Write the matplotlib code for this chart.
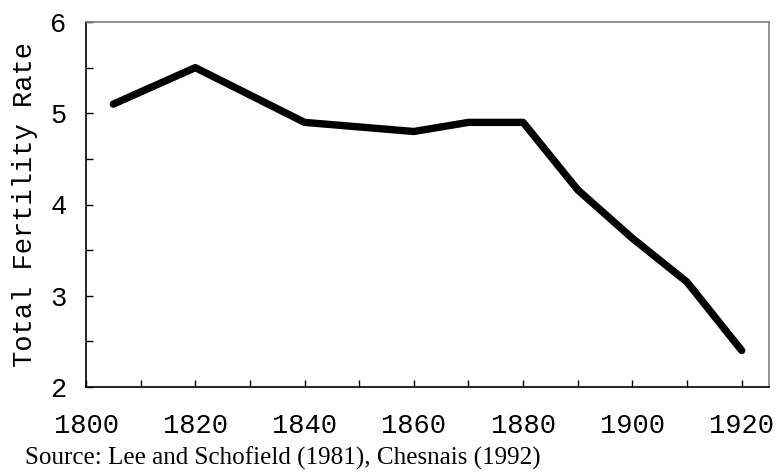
import matplotlib
matplotlib.use("Agg")
import matplotlib.pyplot as plt
from matplotlib.ticker import MultipleLocator

years = [1805, 1820, 1840, 1860, 1870, 1880, 1890, 1900, 1910, 1920]
tfr = [5.1, 5.5, 4.9, 4.8, 4.9, 4.9, 4.16, 3.63, 3.15, 2.4]

W, H = 777, 472
fig = plt.figure(figsize=(W / 100, H / 100), dpi=100)
ax = fig.add_axes([86 / W, 1 - 387 / H, (769 - 86) / W, (387 - 22) / H])

ax.plot(years, tfr, color="black", lw=5.3, solid_capstyle="round", solid_joinstyle="round")

ax.set_xlim(1800, 1925)
ax.set_ylim(2, 6)
ax.xaxis.set_major_locator(MultipleLocator(20))
ax.xaxis.set_minor_locator(MultipleLocator(10))
ax.yaxis.set_major_locator(MultipleLocator(1))
ax.yaxis.set_minor_locator(MultipleLocator(0.5))

mono = "Liberation Mono"
fs = 19.5
ax.tick_params(which="both", direction="in", length=5, width=1, color="black")
ax.tick_params(axis="x", which="major", pad=19, labelsize=fs)
ax.tick_params(axis="y", which="major", pad=14, labelsize=fs)
for lab in ax.get_xticklabels() + ax.get_yticklabels():
    lab.set_fontfamily(mono)

for s in ["top", "right"]:
    ax.spines[s].set_color("#808080")
for s in ["left", "bottom"]:
    ax.spines[s].set_color("black")
for s in ax.spines.values():
    s.set_linewidth(1.2)

ax.set_ylabel("Total Fertility Rate", fontfamily=mono, fontsize=fs)
ax.yaxis.set_label_coords(-48 / (769 - 86), 0.5)

fig.text(25 / W, 1 - 458 / H, "Source: Lee and Schofield (1981), Chesnais (1992)",
         fontfamily="Liberation Serif", fontsize=18.1, va="center", ha="left")

fig.savefig("out.png", dpi=100)
